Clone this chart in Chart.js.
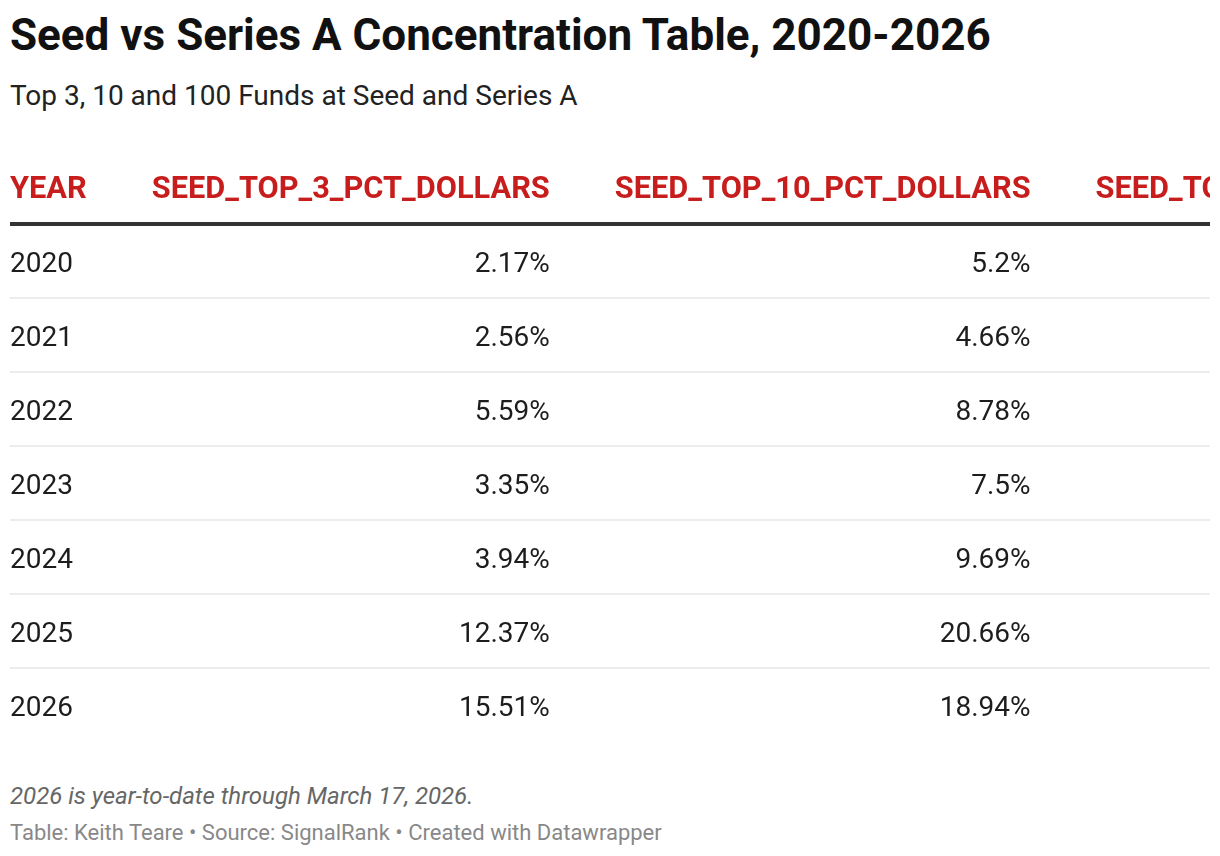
<!DOCTYPE html>
<html>
<head>
<meta charset="utf-8">
<script src="https://cdn.jsdelivr.net/npm/chart.js@4.4.1/dist/chart.umd.min.js"></script>
<style>
  html, body { margin: 0; padding: 0; background: #fff; }
  body { width: 1220px; height: 856px; position: relative; overflow: hidden; font-family: Roboto, sans-serif; }
  .t { position: absolute; left: 10px; line-height: 1; white-space: nowrap; }
  #title { top: 13px; font-size: 44px; font-weight: 700; color: #111; }
  #subtitle { top: 82px; font-size: 28px; color: #222; }
  #note { top: 784px; font-size: 24px; font-style: italic; color: #666; }
  #credits { top: 822px; font-size: 22px; color: #888; }
  #wrap { position: absolute; left: 0; top: 140px; width: 1220px; height: 620px; }
</style>
</head>
<body>
<div class="t" id="title">Seed vs Series A Concentration Table, 2020-2026</div>
<div class="t" id="subtitle">Top 3, 10 and 100 Funds at Seed and Series A</div>
<div id="wrap"><canvas id="c" width="1220" height="620"></canvas></div>
<div class="t" id="note">2026 is year-to-date through March 17, 2026.</div>
<div class="t" id="credits">Table: Keith Teare • Source: SignalRank • Created with Datawrapper</div>
<script>
// ---- data ----
const years = ['2020', '2021', '2022', '2023', '2024', '2025', '2026'];
const seedTop3PctDollars = [2.17, 2.56, 5.59, 3.35, 3.94, 12.37, 15.51];
const seedTop10PctDollars = [5.2, 4.66, 8.78, 7.5, 9.69, 20.66, 18.94];
const columnHeaders = ['YEAR', 'SEED_TOP_3_PCT_DOLLARS', 'SEED_TOP_10_PCT_DOLLARS', 'SEED_TOP_100_PCT_DOLLARS'];

// ---- style ----
const HEADER_FONT = '700 30.75px Roboto';
const BODY_FONT = '400 28px Roboto';
const HEADER_COLOR = '#c71e1d';
const BODY_COLOR = '#1d1d1d';
const COL_GAP = 65;

const columns = [
  { header: columnHeaders[0], values: years, align: 'left', fmt: v => v },
  { header: columnHeaders[1], values: seedTop3PctDollars, align: 'right', fmt: v => v + '%' },
  { header: columnHeaders[2], values: seedTop10PctDollars, align: 'right', fmt: v => v + '%' },
  { header: columnHeaders[3], values: [], align: 'right', fmt: v => v + '%' }
];

const tablePlugin = {
  id: 'tableCells',
  afterDraw(chart) {
    const { ctx, chartArea } = chart;
    const yScale = chart.scales.y;
    ctx.save();
    ctx.beginPath();
    ctx.rect(chartArea.left, 0, chartArea.right - chartArea.left, chart.height);
    ctx.clip();
    ctx.textBaseline = 'alphabetic';
    let left = chartArea.left;
    const headerY = chartArea.top - 26;
    columns.forEach(col => {
      ctx.font = HEADER_FONT;
      let w = ctx.measureText(col.header).width;
      ctx.font = BODY_FONT;
      col.values.forEach(v => { w = Math.max(w, ctx.measureText(col.fmt(v)).width); });
      const right = left + w;
      // header
      ctx.font = HEADER_FONT;
      ctx.fillStyle = HEADER_COLOR;
      ctx.textAlign = col.align;
      ctx.fillText(col.header, col.align === 'left' ? left : right, headerY);
      // cells
      ctx.font = BODY_FONT;
      ctx.fillStyle = BODY_COLOR;
      col.values.forEach((v, i) => {
        const y = yScale.getPixelForValue(i) + 11;
        ctx.fillText(col.fmt(v), col.align === 'left' ? left : right, y);
      });
      left = right + COL_GAP;
    });
    ctx.restore();
  }
};

new Chart(document.getElementById('c'), {
  type: 'bar',
  data: { labels: years, datasets: [] },
  options: {
    responsive: false,
    animation: false,
    indexAxis: 'y',
    layout: { padding: { left: 10, right: 10, top: 84, bottom: 18 } },
    plugins: { legend: { display: false }, tooltip: { enabled: false } },
    scales: {
      x: { display: false },
      y: {
        type: 'category',
        labels: years,
        offset: true,
        ticks: { display: false },
        border: { display: false },
        grid: {
          offset: true,
          drawTicks: false,
          color: c => c.index === 0 ? '#333333' : (typeof c.index !== 'number' || c.index >= years.length ? 'rgba(0,0,0,0)' : '#ececec'),
          lineWidth: c => c.index === 0 ? 4 : 2
        }
      }
    }
  },
  plugins: [tablePlugin]
});
</script>
</body>
</html>
